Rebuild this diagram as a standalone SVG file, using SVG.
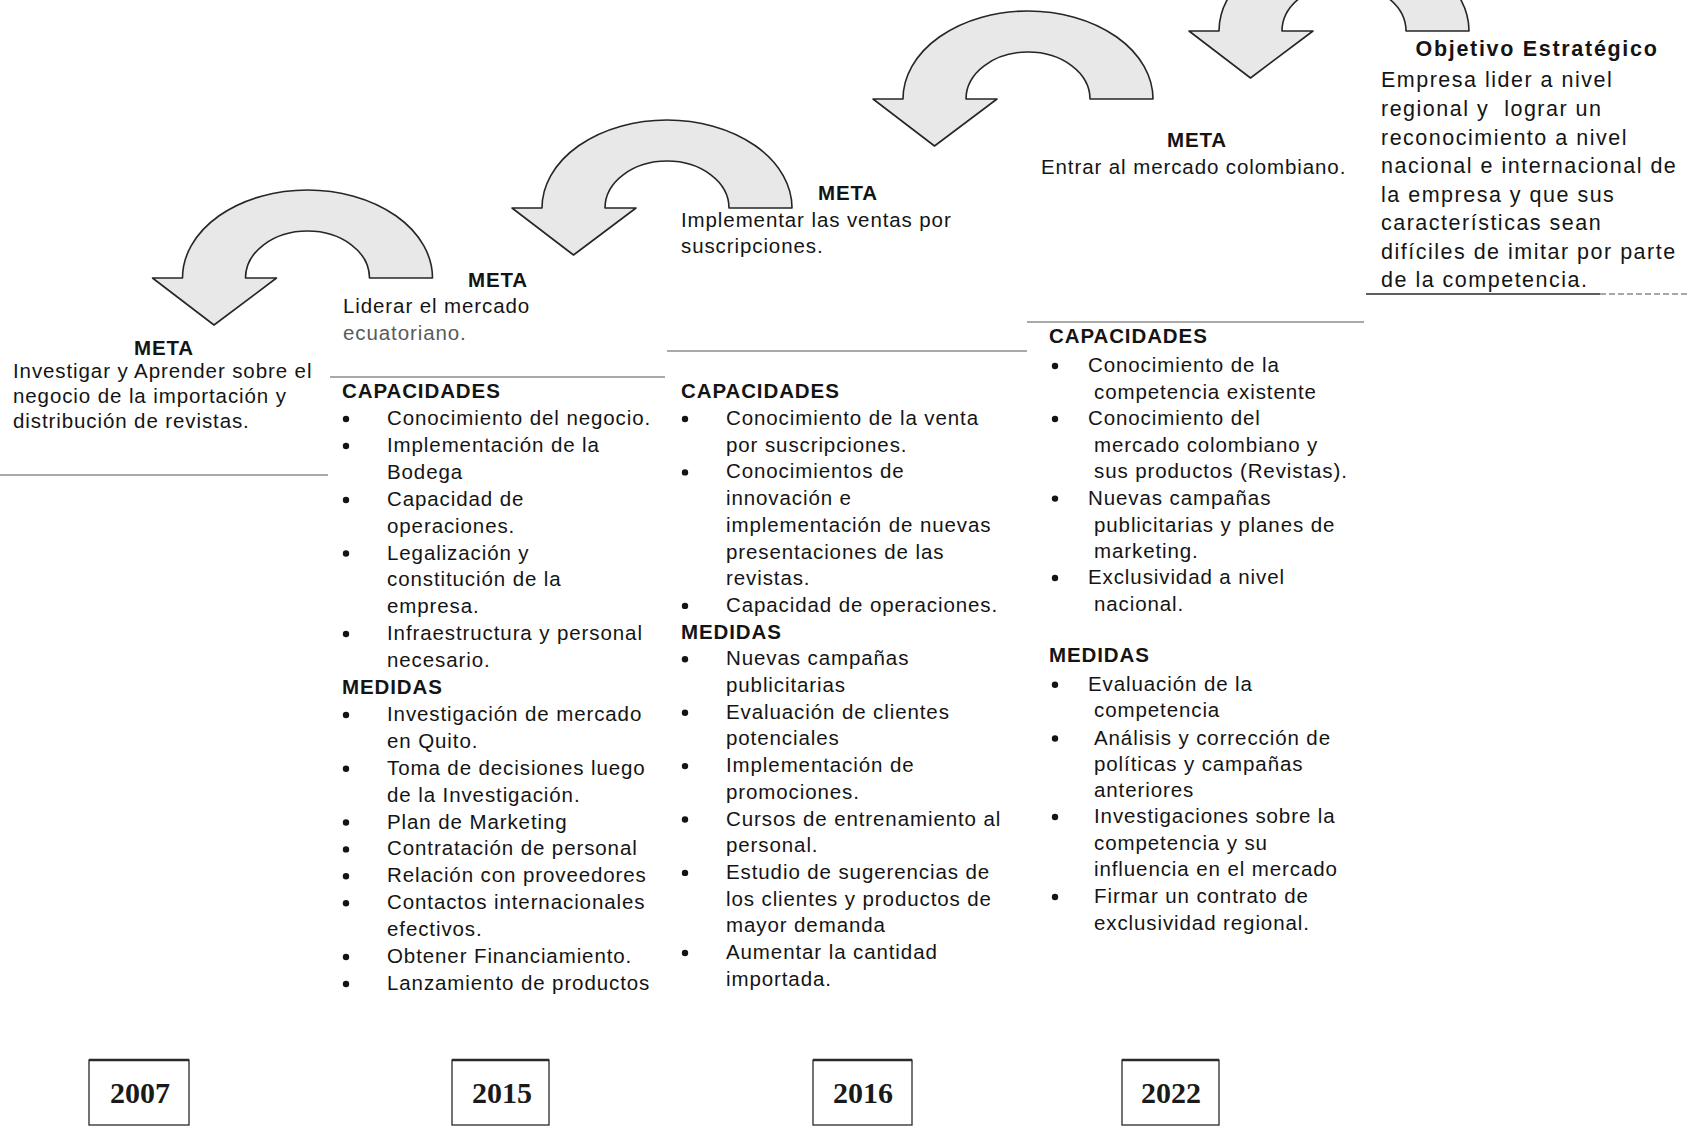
<svg xmlns="http://www.w3.org/2000/svg" width="1687" height="1127" viewBox="0 0 1687 1127">
<style>
.t{font-family:"Liberation Sans",Arial,sans-serif;font-size:20.5px;letter-spacing:0.9px;fill:#141414}
.b{font-weight:bold}
.m{text-anchor:middle}
.o{font-size:21.5px;letter-spacing:1.5px}
.ob{font-size:21.5px;letter-spacing:1.7px;font-weight:bold;text-anchor:middle}
.g{fill:#5a5a5a}
.yr{font-family:"Liberation Serif","Times New Roman",serif;font-weight:bold;font-size:30px;text-anchor:middle;fill:#1a1a1a}
.sep{stroke:#8c8c8c;stroke-width:1.4;fill:none}
.dk{stroke:#2a2a2a;stroke-width:1.5;fill:none}
.arrow{fill:#e8e8e8;stroke:#262626;stroke-width:1.6;stroke-linejoin:round}
.box{fill:#fff;stroke:#2a2a2a;stroke-width:1.3}
.top{stroke:#2a2a2a;stroke-width:2.6}
.dot{fill:#141414}
</style>
<defs>
<path id="curve" d="M125,0 A125,88 0 0 0 -125,0 L-155,0 L-93.5,47 L-31,0 L-62,0 A62,47 0 0 1 62,0 Z"/>
</defs>
<rect width="1687" height="1127" fill="#fff"/>

<g id="connectors">
<use href="#curve" class="arrow" transform="translate(307.5,278)"/>
<use href="#curve" class="arrow" transform="translate(667,208)"/>
<use href="#curve" class="arrow" transform="translate(1028,99)"/>
<use href="#curve" class="arrow" transform="translate(1344,31)"/>
</g>

<g id="separators">
<line class="sep" x1="0" y1="475" x2="328" y2="475"/>
<line class="sep" x1="330" y1="377" x2="665" y2="377"/>
<line class="sep" x1="667" y1="351" x2="1027" y2="351"/>
<line class="sep" x1="1027" y1="322" x2="1364" y2="322"/>
<line class="dk" x1="1366" y1="294" x2="1600" y2="294"/>
<line class="sep" x1="1600" y1="294" x2="1687" y2="294" stroke-dasharray="6 3"/>
</g>

<g id="meta-2007">
<text class="t b m" x="164" y="355">META</text>
<text class="t" x="13" y="378">Investigar y Aprender sobre el</text>
<text class="t" x="13" y="403">negocio de la importación y</text>
<text class="t" x="13" y="428">distribución de revistas.</text>
</g>

<g id="meta-2015">
<text class="t b m" x="498" y="287">META</text>
<text class="t" x="343" y="313">Liderar el mercado</text>
<text class="t g" x="343" y="340">ecuatoriano.</text>
<text class="t b" x="342" y="398">CAPACIDADES</text>
<g class="dot">
<circle cx="346" cy="419" r="3.2"/>
<circle cx="346" cy="446" r="3.2"/>
<circle cx="346" cy="500" r="3.2"/>
<circle cx="346" cy="553.5" r="3.2"/>
<circle cx="346" cy="634" r="3.2"/>
<circle cx="346" cy="715" r="3.2"/>
<circle cx="346" cy="768.7" r="3.2"/>
<circle cx="346" cy="822.5" r="3.2"/>
<circle cx="346" cy="849.4" r="3.2"/>
<circle cx="346" cy="876.3" r="3.2"/>
<circle cx="346" cy="903.2" r="3.2"/>
<circle cx="346" cy="957" r="3.2"/>
<circle cx="346" cy="984" r="3.2"/>
</g>
<text class="t" x="387" y="425">Conocimiento del negocio.</text>
<text class="t" x="387" y="451.9">Implementación de la</text>
<text class="t" x="387" y="478.8">Bodega</text>
<text class="t" x="387" y="505.7">Capacidad de</text>
<text class="t" x="387" y="532.6">operaciones.</text>
<text class="t" x="387" y="559.5">Legalización y</text>
<text class="t" x="387" y="586.4">constitución de la</text>
<text class="t" x="387" y="613.3">empresa.</text>
<text class="t" x="387" y="640.2">Infraestructura y personal</text>
<text class="t" x="387" y="667.1">necesario.</text>
<text class="t b" x="342" y="694">MEDIDAS</text>
<text class="t" x="387" y="720.9">Investigación de mercado</text>
<text class="t" x="387" y="747.8">en Quito.</text>
<text class="t" x="387" y="774.7">Toma de decisiones luego</text>
<text class="t" x="387" y="801.6">de la Investigación.</text>
<text class="t" x="387" y="828.5">Plan de Marketing</text>
<text class="t" x="387" y="855.4">Contratación de personal</text>
<text class="t" x="387" y="882.3">Relación con proveedores</text>
<text class="t" x="387" y="909.2">Contactos internacionales</text>
<text class="t" x="387" y="936.1">efectivos.</text>
<text class="t" x="387" y="963">Obtener Financiamiento.</text>
<text class="t" x="387" y="989.9">Lanzamiento de productos</text>
</g>

<g id="meta-2016">
<text class="t b m" x="848" y="200">META</text>
<text class="t" x="681" y="227">Implementar las ventas por</text>
<text class="t" x="681" y="253">suscripciones.</text>
<text class="t b" x="681" y="398">CAPACIDADES</text>
<g class="dot">
<circle cx="685" cy="419" r="3.2"/>
<circle cx="685" cy="472.4" r="3.2"/>
<circle cx="685" cy="605.9" r="3.2"/>
<circle cx="685" cy="659.3" r="3.2"/>
<circle cx="685" cy="712.7" r="3.2"/>
<circle cx="685" cy="766.1" r="3.2"/>
<circle cx="685" cy="819.5" r="3.2"/>
<circle cx="685" cy="872.9" r="3.2"/>
<circle cx="685" cy="953" r="3.2"/>
</g>
<text class="t" x="726" y="425">Conocimiento de la venta</text>
<text class="t" x="726" y="451.7">por suscripciones.</text>
<text class="t" x="726" y="478.4">Conocimientos de</text>
<text class="t" x="726" y="505.1">innovación e</text>
<text class="t" x="726" y="531.8">implementación de nuevas</text>
<text class="t" x="726" y="558.5">presentaciones de las</text>
<text class="t" x="726" y="585.2">revistas.</text>
<text class="t" x="726" y="611.9">Capacidad de operaciones.</text>
<text class="t b" x="681" y="638.6">MEDIDAS</text>
<text class="t" x="726" y="665.3">Nuevas campañas</text>
<text class="t" x="726" y="692">publicitarias</text>
<text class="t" x="726" y="718.7">Evaluación de clientes</text>
<text class="t" x="726" y="745.4">potenciales</text>
<text class="t" x="726" y="772.1">Implementación de</text>
<text class="t" x="726" y="798.8">promociones.</text>
<text class="t" x="726" y="825.5">Cursos de entrenamiento al</text>
<text class="t" x="726" y="852.2">personal.</text>
<text class="t" x="726" y="878.9">Estudio de sugerencias de</text>
<text class="t" x="726" y="905.6">los clientes y productos de</text>
<text class="t" x="726" y="932.3">mayor demanda</text>
<text class="t" x="726" y="959">Aumentar la cantidad</text>
<text class="t" x="726" y="985.7">importada.</text>
</g>

<g id="meta-2022">
<text class="t b m" x="1197" y="147">META</text>
<text class="t" x="1041" y="174">Entrar al mercado colombiano.</text>
<text class="t b" x="1049" y="343">CAPACIDADES</text>
<g class="dot">
<circle cx="1055" cy="366" r="3.2"/>
<circle cx="1055" cy="419" r="3.2"/>
<circle cx="1055" cy="498.6" r="3.2"/>
<circle cx="1055" cy="578" r="3.2"/>
<circle cx="1055" cy="684.7" r="3.2"/>
<circle cx="1055" cy="738.5" r="3.2"/>
<circle cx="1055" cy="817" r="3.2"/>
<circle cx="1055" cy="897" r="3.2"/>
</g>
<text class="t" x="1088" y="372">Conocimiento de la</text>
<text class="t" x="1094" y="398.5">competencia existente</text>
<text class="t" x="1088" y="425">Conocimiento del</text>
<text class="t" x="1094" y="452">mercado colombiano y</text>
<text class="t" x="1094" y="478">sus productos (Revistas).</text>
<text class="t" x="1088" y="504.6">Nuevas campañas</text>
<text class="t" x="1094" y="531.5">publicitarias y planes de</text>
<text class="t" x="1094" y="557.5">marketing.</text>
<text class="t" x="1088" y="584">Exclusividad a nivel</text>
<text class="t" x="1094" y="611">nacional.</text>
<text class="t b" x="1049" y="662">MEDIDAS</text>
<text class="t" x="1088" y="690.7">Evaluación de la</text>
<text class="t" x="1094" y="717">competencia</text>
<text class="t" x="1094" y="744.5">Análisis y corrección de</text>
<text class="t" x="1094" y="770.5">políticas y campañas</text>
<text class="t" x="1094" y="796.5">anteriores</text>
<text class="t" x="1094" y="823">Investigaciones sobre la</text>
<text class="t" x="1094" y="850">competencia y su</text>
<text class="t" x="1094" y="876">influencia en el mercado</text>
<text class="t" x="1094" y="903">Firmar un contrato de</text>
<text class="t" x="1094" y="930">exclusividad regional.</text>
</g>

<g id="objetivo">
<text class="t ob" x="1537" y="56">Objetivo Estratégico</text>
<text class="t o" x="1381" y="87">Empresa lider a nivel</text>
<text class="t o" x="1381" y="116">regional y&#160; lograr un</text>
<text class="t o" x="1381" y="144.5">reconocimiento a nivel</text>
<text class="t o" x="1381" y="173">nacional e internacional de</text>
<text class="t o" x="1381" y="201.5">la empresa y que sus</text>
<text class="t o" x="1381" y="230">características sean</text>
<text class="t o" x="1381" y="258.5">difíciles de imitar por parte</text>
<text class="t o" x="1381" y="287">de la competencia.</text>
</g>

<g id="year-2007">
<rect class="box" x="89" y="1060" width="100" height="65"/>
<line class="top" x1="89" y1="1060" x2="189" y2="1060"/>
<text class="yr" x="140" y="1103">2007</text>
</g>
<g id="year-2015">
<rect class="box" x="452" y="1060" width="97" height="65"/>
<line class="top" x1="452" y1="1060" x2="549" y2="1060"/>
<text class="yr" x="502" y="1103">2015</text>
</g>
<g id="year-2016">
<rect class="box" x="813" y="1060" width="99" height="65"/>
<line class="top" x1="813" y1="1060" x2="912" y2="1060"/>
<text class="yr" x="863" y="1103">2016</text>
</g>
<g id="year-2022">
<rect class="box" x="1122" y="1060" width="97" height="65"/>
<line class="top" x1="1122" y1="1060" x2="1219" y2="1060"/>
<text class="yr" x="1171" y="1103">2022</text>
</g>
</svg>
